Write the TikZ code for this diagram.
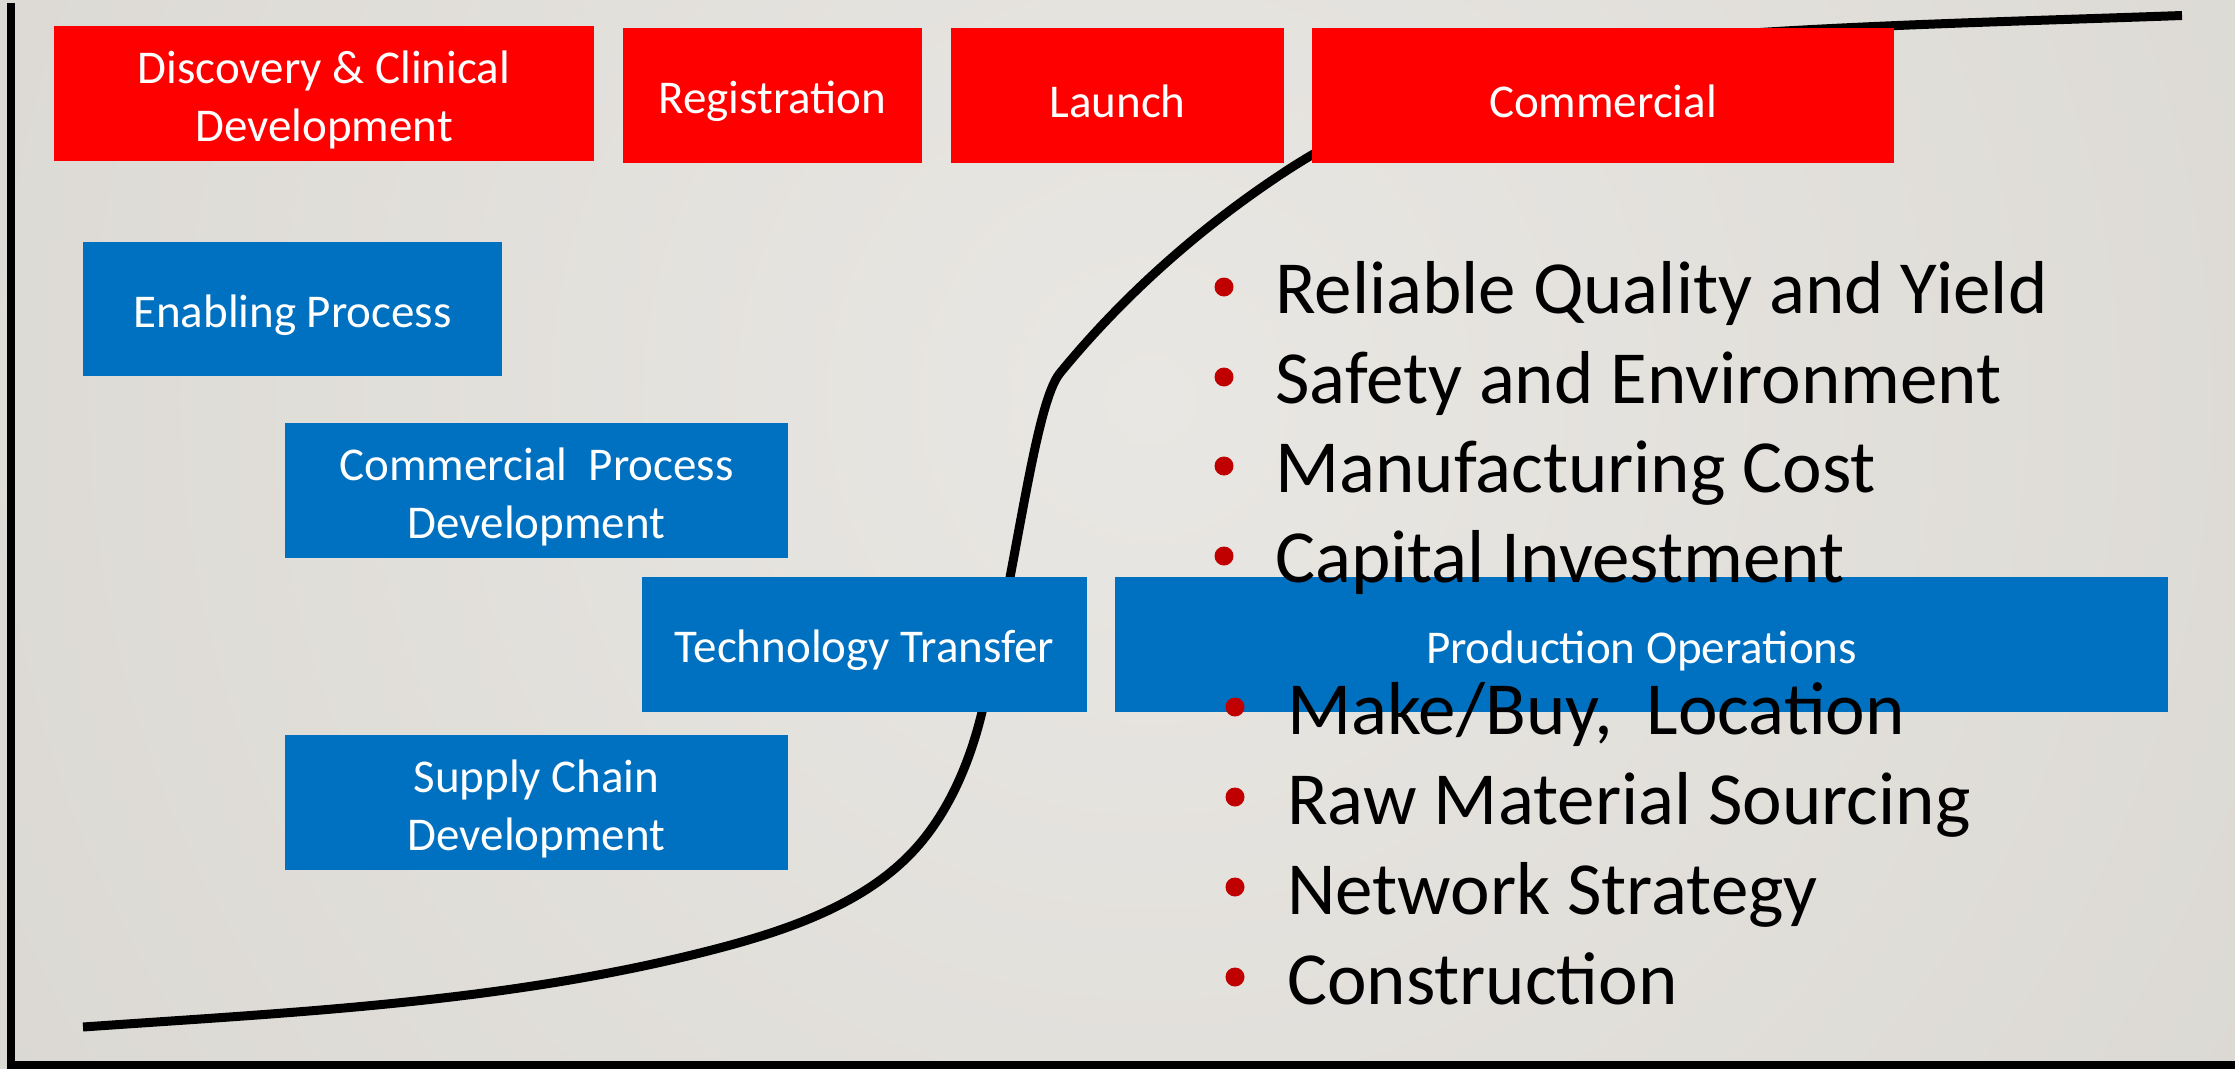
\documentclass[tikz,border=0pt]{standalone}
\usepackage{fontspec}
\setmainfont{Carlito}
\definecolor{phasered}{HTML}{FF0000}
\definecolor{taskblue}{HTML}{0070C0}
\definecolor{dotred}{HTML}{C00000}
\definecolor{bglight}{HTML}{E9E7E3}
\definecolor{bgdark}{HTML}{D0CDC7}
\begin{document}
\begin{tikzpicture}[x=1pt,y=-1pt,
  box/.style={rectangle, inner sep=0pt, minimum height=135pt},
  redbox/.style={box, fill=phasered},
  bluebox/.style={box, fill=taskblue},
  boxtext/.style={inner sep=0pt, align=center, text=white,
    font=\fontsize{47}{58}\selectfont},
  item/.style={anchor=base west, inner sep=0pt, text=black,
    font=\fontsize{75}{90}\selectfont},
  dot/.style={circle, fill=dotred, inner sep=0pt, minimum size=19pt},
  axis/.style={line width=8pt, black, line join=miter},
  curve/.style={line width=9pt, black}]
\useasboundingbox (0,0) rectangle (2235,1068);

% background
\begin{scope}
  \clip (0,0) rectangle (2235,1068);
  \shade[inner color=bglight, outer color=bgdark] (1150,400) circle (2400pt);
\end{scope}

% axes
\coordinate (ytop) at (11,3);
\coordinate (origin) at (11,1065);
\coordinate (xend) at (2240,1065);
\draw[axis] (ytop) -- (origin) -- (xend);

% S-curve
\draw[curve] (83,1027)
  .. controls (290,1012.5) and (499,1003) .. (700,953)
  .. controls (777.6,933.6) and (864,907) .. (917,847)
  .. controls (950,809.6) and (970.3,760.6) .. (982,712)
  .. controls (1017,566) and (1034.6,404) .. (1060,373)
  .. controls (1123.4,295.7) and (1199.5,228.1) .. (1283,173)
  .. controls (1423,80.4) and (1600,42) .. (1768,32)
  .. controls (1906,23.7) and (2044,20.5) .. (2182,15.5);

% phases
\node[redbox, minimum width=540pt] (disc) at (324,93.5) {};
\node[redbox, minimum width=299pt] (reg) at (772.5,95.5) {};
\node[redbox, minimum width=333pt] (launch) at (1117.5,95.5) {};
\node[redbox, minimum width=582pt] (comm) at (1603,95.5) {};
\node[boxtext] (disc-t) at ([yshift=-6pt]disc.center) {Discovery \& Clinical\\Development};
\node[boxtext] (reg-t) at ([yshift=-6pt]reg.center) {Registration};
\node[boxtext] (launch-t) at ([yshift=-6pt]launch.center) {Launch};
\node[boxtext] (comm-t) at ([yshift=-6pt]comm.center) {Commercial};

% activities
\node[bluebox, minimum width=419pt, minimum height=134pt] (enab) at (292.5,309) {};
\node[bluebox, minimum width=503pt] (cpd) at (536.5,490.5) {};
\node[bluebox, minimum width=445pt] (tt) at (864.5,644.5) {};
\node[bluebox, minimum width=1053pt] (po) at (1641.5,644.5) {};
\node[bluebox, minimum width=503pt] (scd) at (536.5,802.5) {};
\node[boxtext] (enab-t) at ([yshift=-6pt]enab.center) {Enabling Process};
\node[boxtext] (cpd-t) at ([yshift=-6pt]cpd.center) {Commercial\ \ Process\\Development};
\node[boxtext] (tt-t) at ([yshift=-6pt]tt.center) {Technology Transfer};
\node[boxtext] (po-t) at ([yshift=-6pt]po.center) {Production Operations};
\node[boxtext] (scd-t) at ([yshift=-6pt]scd.center) {Supply Chain\\Development};

% upper list
\node[dot] (u1) at (1224,287) {};
\node[dot] (u2) at (1224,377) {};
\node[dot] (u3) at (1224,466) {};
\node[dot] (u4) at (1224,556) {};
\node[item] (t1) at (1275,313) {Reliable Quality and Yield};
\node[item] (t2) at (1275,403) {Safety and Environment};
\node[item] (t3) at (1275,492) {Manufacturing Cost};
\node[item] (t4) at (1275,582) {Capital Investment};

% lower list
\node[dot] (l1) at (1235,707) {};
\node[dot] (l2) at (1235,797) {};
\node[dot] (l3) at (1235,887) {};
\node[dot] (l4) at (1235,977) {};
\node[item] (s1) at (1287,734) {Make/Buy,\ \ Location};
\node[item] (s2) at (1287,824) {Raw Material Sourcing};
\node[item] (s3) at (1287,914) {Network Strategy};
\node[item] (s4) at (1287,1004) {Construction};
\end{tikzpicture}
\end{document}
